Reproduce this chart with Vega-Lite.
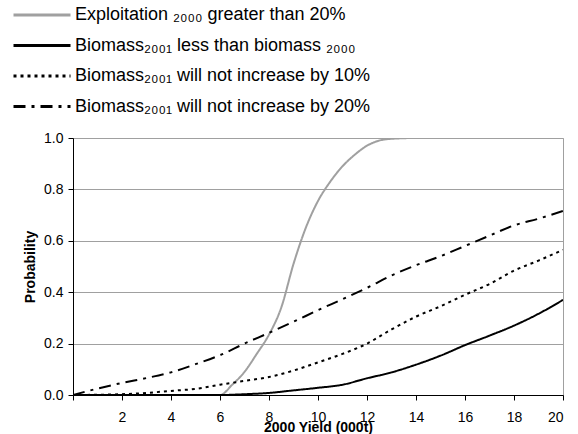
{
  "$schema": "https://vega.github.io/schema/vega-lite/v6.json",
  "autosize": "none",
  "width": 490,
  "height": 257,
  "padding": {"left": 73, "top": 138, "right": 15, "bottom": 39},
  "background": "white",
  "config": {
    "font": "Liberation Sans",
    "view": {"stroke": "#a0a0a0", "strokeWidth": 1},
    "legend": {"padding": 0}
  },
  "datasets": {
    "curves": [
      {"s": "A", "x": 0, "p": 0}, {"s": "A", "x": 1, "p": 0}, {"s": "A", "x": 2, "p": 0}, {"s": "A", "x": 3, "p": 0}, {"s": "A", "x": 4, "p": 0}, {"s": "A", "x": 5, "p": 0}, {"s": "A", "x": 6, "p": 0},
      {"s": "A", "x": 6.5, "p": 0.04}, {"s": "A", "x": 7, "p": 0.09}, {"s": "A", "x": 7.5, "p": 0.16}, {"s": "A", "x": 8, "p": 0.235}, {"s": "A", "x": 8.5, "p": 0.34}, {"s": "A", "x": 9, "p": 0.51}, {"s": "A", "x": 9.5, "p": 0.65}, {"s": "A", "x": 10, "p": 0.755}, {"s": "A", "x": 10.5, "p": 0.83}, {"s": "A", "x": 11, "p": 0.89}, {"s": "A", "x": 11.5, "p": 0.935}, {"s": "A", "x": 12, "p": 0.97}, {"s": "A", "x": 12.5, "p": 0.99}, {"s": "A", "x": 13, "p": 0.997}, {"s": "A", "x": 14, "p": 1}, {"s": "A", "x": 15, "p": 1}, {"s": "A", "x": 16, "p": 1}, {"s": "A", "x": 17, "p": 1}, {"s": "A", "x": 18, "p": 1}, {"s": "A", "x": 19, "p": 1}, {"s": "A", "x": 20, "p": 1},
      {"s": "B", "x": 0, "p": 0}, {"s": "B", "x": 1, "p": 0}, {"s": "B", "x": 2, "p": 0}, {"s": "B", "x": 3, "p": 0}, {"s": "B", "x": 4, "p": 0}, {"s": "B", "x": 5, "p": 0}, {"s": "B", "x": 6, "p": 0}, {"s": "B", "x": 7, "p": 0.003}, {"s": "B", "x": 8, "p": 0.008}, {"s": "B", "x": 9, "p": 0.018}, {"s": "B", "x": 10, "p": 0.028}, {"s": "B", "x": 11, "p": 0.04}, {"s": "B", "x": 12, "p": 0.065}, {"s": "B", "x": 13, "p": 0.088}, {"s": "B", "x": 14, "p": 0.118}, {"s": "B", "x": 15, "p": 0.153}, {"s": "B", "x": 16, "p": 0.194}, {"s": "B", "x": 17, "p": 0.231}, {"s": "B", "x": 18, "p": 0.27}, {"s": "B", "x": 19, "p": 0.316}, {"s": "B", "x": 20, "p": 0.37},
      {"s": "C", "x": 0, "p": 0}, {"s": "C", "x": 1, "p": 0.001}, {"s": "C", "x": 2, "p": 0.003}, {"s": "C", "x": 3, "p": 0.008}, {"s": "C", "x": 4, "p": 0.016}, {"s": "C", "x": 5, "p": 0.024}, {"s": "C", "x": 6, "p": 0.04}, {"s": "C", "x": 7, "p": 0.055}, {"s": "C", "x": 8, "p": 0.07}, {"s": "C", "x": 9, "p": 0.095}, {"s": "C", "x": 10, "p": 0.127}, {"s": "C", "x": 11, "p": 0.16}, {"s": "C", "x": 12, "p": 0.2}, {"s": "C", "x": 13, "p": 0.255}, {"s": "C", "x": 14, "p": 0.305}, {"s": "C", "x": 15, "p": 0.345}, {"s": "C", "x": 16, "p": 0.39}, {"s": "C", "x": 17, "p": 0.432}, {"s": "C", "x": 18, "p": 0.484}, {"s": "C", "x": 19, "p": 0.523}, {"s": "C", "x": 20, "p": 0.565},
      {"s": "D", "x": 0, "p": 0}, {"s": "D", "x": 1, "p": 0.025}, {"s": "D", "x": 2, "p": 0.047}, {"s": "D", "x": 3, "p": 0.066}, {"s": "D", "x": 4, "p": 0.088}, {"s": "D", "x": 5, "p": 0.12}, {"s": "D", "x": 6, "p": 0.155}, {"s": "D", "x": 7, "p": 0.2}, {"s": "D", "x": 8, "p": 0.242}, {"s": "D", "x": 9, "p": 0.285}, {"s": "D", "x": 10, "p": 0.33}, {"s": "D", "x": 11, "p": 0.373}, {"s": "D", "x": 12, "p": 0.417}, {"s": "D", "x": 13, "p": 0.465}, {"s": "D", "x": 14, "p": 0.505}, {"s": "D", "x": 15, "p": 0.54}, {"s": "D", "x": 16, "p": 0.58}, {"s": "D", "x": 17, "p": 0.62}, {"s": "D", "x": 18, "p": 0.66}, {"s": "D", "x": 19, "p": 0.686}, {"s": "D", "x": 20, "p": 0.716}
    ],
    "names": [
      {"s": "A", "label": "Exploitation ₂₀₀₀ greater than 20%"},
      {"s": "B", "label": "Biomass₂₀₀₁ less than biomass ₂₀₀₀"},
      {"s": "C", "label": "Biomass₂₀₀₁ will not increase by 10%"},
      {"s": "D", "label": "Biomass₂₀₀₁ will not increase by 20%"}
    ]
  },
  "data": {"name": "curves"},
  "transform": [
    {"lookup": "s", "from": {"data": {"name": "names"}, "key": "s", "fields": ["label"]}}
  ],
  "mark": {"type": "line", "interpolate": "monotone", "strokeCap": "butt", "clip": true},
  "encoding": {
    "x": {
      "field": "x", "type": "quantitative",
      "scale": {"domain": [0, 20], "nice": false, "zero": false},
      "axis": {
        "values": [0, 2, 4, 6, 8, 10, 12, 14, 16, 18, 20],
        "labelExpr": "datum.value == 0 ? '' : datum.label",
        "title": "2000 Yield (000t)",
        "grid": false,
        "domainColor": "black", "tickColor": "black", "tickSize": 5,
        "labelFontSize": 14, "labelColor": "black", "labelPadding": 10,
        "titleFontSize": 14, "titleFontWeight": "bold", "titleColor": "black", "titlePadding": -4
      }
    },
    "y": {
      "field": "p", "type": "quantitative",
      "scale": {"domain": [0, 1], "nice": false},
      "axis": {
        "values": [0, 0.2, 0.4, 0.6, 0.8, 1.0],
        "format": ".1f",
        "title": "Probability",
        "grid": true, "gridColor": "#a0a0a0", "gridOpacity": 1,
        "domainColor": "black", "tickColor": "black", "tickSize": 5,
        "labelFontSize": 14, "labelColor": "black", "labelPadding": 5,
        "titleFontSize": 14, "titleFontWeight": "bold", "titleColor": "black", "titlePadding": 6
      }
    },
    "color": {
      "field": "label", "type": "nominal",
      "sort": ["Exploitation ₂₀₀₀ greater than 20%", "Biomass₂₀₀₁ less than biomass ₂₀₀₀", "Biomass₂₀₀₁ will not increase by 10%", "Biomass₂₀₀₁ will not increase by 20%"],
      "scale": {
        "domain": ["Exploitation ₂₀₀₀ greater than 20%", "Biomass₂₀₀₁ less than biomass ₂₀₀₀", "Biomass₂₀₀₁ will not increase by 10%", "Biomass₂₀₀₁ will not increase by 20%"],
        "range": ["#a0a0a0", "black", "black", "black"]
      },
      "legend": {
        "title": null, "orient": "none", "legendX": -42, "legendY": -134,
        "symbolType": "M-3,0L3,0", "symbolSize": 361, "symbolStrokeWidth": 3,
        "labelFontSize": 18, "labelColor": "black", "labelOffset": 22, "labelLimit": 0,
        "rowPadding": 10.5
      }
    },
    "strokeDash": {
      "field": "label", "type": "nominal",
      "sort": ["Exploitation ₂₀₀₀ greater than 20%", "Biomass₂₀₀₁ less than biomass ₂₀₀₀", "Biomass₂₀₀₁ will not increase by 10%", "Biomass₂₀₀₁ will not increase by 20%"],
      "scale": {
        "domain": ["Exploitation ₂₀₀₀ greater than 20%", "Biomass₂₀₀₁ less than biomass ₂₀₀₀", "Biomass₂₀₀₁ will not increase by 10%", "Biomass₂₀₀₁ will not increase by 20%"],
        "range": [[1, 0], [1, 0], [3, 4], [12, 6, 3, 6]]
      },
      "legend": {
        "title": null, "orient": "none", "legendX": -42, "legendY": -134,
        "symbolType": "M-3,0L3,0", "symbolSize": 361, "symbolStrokeWidth": 3,
        "labelFontSize": 18, "labelColor": "black", "labelOffset": 22, "labelLimit": 0,
        "rowPadding": 10.5
      }
    },
    "strokeWidth": {"value": 2}
  }
}
